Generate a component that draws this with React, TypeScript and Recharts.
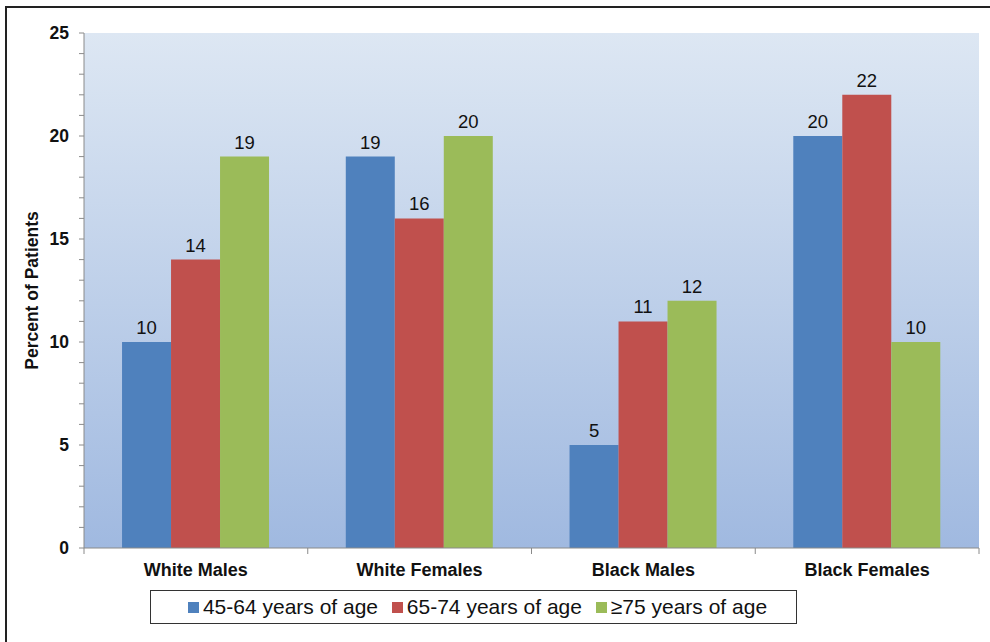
import React from "react";
import {
    BarChart,
    Bar,
    XAxis,
    YAxis,
    CartesianGrid,
    LabelList,
    Legend,
} from "recharts";

// data
const categories = ["White Males", "White Females", "Black Males", "Black Females"];
const age45to64 = [10, 19, 5, 20];
const age65to74 = [14, 16, 11, 22];
const age75plus = [19, 20, 12, 10];
const seriesNames = ["45-64 years of age", "65-74 years of age", "\u226575 years of age"];
const seriesColors = ["#4f81bd", "#c0504d", "#9bbb59"];
const yTicks = [0, 1, 2, 3, 4, 5, 6, 7, 8, 9, 10, 11, 12, 13, 14, 15, 16, 17, 18, 19, 20, 21, 22, 23, 24, 25];

const FONT = "'Liberation Sans', Arial, Helvetica, sans-serif";
const AXIS_GREY = "#8a8a8a";

const YTick = (props: any) => {
    const { x, y, payload } = props;
    const major = payload.value % 5 === 0;
    return (
        <g>
            <line x1={x - 5} x2={x} y1={y} y2={y} stroke={AXIS_GREY} strokeWidth={1} />
            {major && (
                <text
                    x={x - 15}
                    y={y}
                    dy={6}
                    textAnchor="end"
                    fontFamily={FONT}
                    fontWeight="bold"
                    fontSize={17.5}
                    fill="#111"
                >
                    {payload.value}
                </text>
            )}
        </g>
    );
};

const XTick = (props: any) => {
    const { x, y, payload, index } = props;
    const half = payload.offset || 111.875;
    return (
        <g>
            <line x1={x - half} x2={x - half} y1={y} y2={y + 6} stroke={AXIS_GREY} />
            {index === categories.length - 1 && (
                <line x1={x + half} x2={x + half} y1={y} y2={y + 6} stroke={AXIS_GREY} />
            )}
            <text
                x={x}
                y={y + 28}
                textAnchor="middle"
                fontFamily={FONT}
                fontWeight="bold"
                fontSize={18}
                fill="#111"
            >
                {payload.value}
            </text>
        </g>
    );
};

const LegendBox = () => (
    <div
        style={{
            boxSizing: "border-box",
            width: 647,
            height: 34,
            border: "1.5px solid #333",
            background: "#fff",
            display: "flex",
            alignItems: "center",
            justifyContent: "space-around",
            padding: "0 22px 0 30px",
            fontFamily: FONT,
            fontSize: 21,
            color: "#111",
        }}
    >
        {seriesNames.map((n, i) => (
            <div key={n} style={{ display: "flex", alignItems: "center" }}>
                <span
                    style={{
                        display: "inline-block",
                        width: 11,
                        height: 11,
                        background: seriesColors[i],
                        marginRight: 4,
                    }}
                />
                <span>{n}</span>
            </div>
        ))}
    </div>
);

export default function App() {
    const chartData = categories.map((c, i) => ({
        name: c,
        a: age45to64[i],
        b: age65to74[i],
        c: age75plus[i],
    }));

    return (
        <div
            style={{
                position: "absolute",
                left: 0,
                top: 0,
                width: 990,
                height: 642,
                overflow: "hidden",
                background: "#fff",
            }}
        >
            {/* outer frame, only left and top edges fall inside the picture */}
            <div
                style={{
                    position: "absolute",
                    left: 5,
                    top: 6,
                    width: 1100,
                    height: 800,
                    border: "2.5px solid #222",
                }}
            />
            <div style={{ position: "absolute", left: 0, top: 0 }}>
                <BarChart
                    width={990}
                    height={642}
                    data={chartData}
                    margin={{ top: 33, right: 11, bottom: 58, left: 0 }}
                    barCategoryGap="17%"
                    barGap={0}
                >
                    <defs>
                        <linearGradient id="plotBg" x1="0" y1="0" x2="0" y2="1">
                            <stop offset="0%" stopColor="#dde7f3" />
                            <stop offset="100%" stopColor="#a0b9e0" />
                        </linearGradient>
                    </defs>
                    <CartesianGrid horizontal={false} vertical={false} fill="url(#plotBg)" />
                    <XAxis
                        dataKey="name"
                        height={36}
                        stroke={AXIS_GREY}
                        tickLine={false}
                        tickSize={0}
                        tickMargin={0}
                        tick={<XTick />}
                        interval={0}
                    />
                    <XAxis
                        xAxisId="top"
                        dataKey="name"
                        orientation="top"
                        height={0}
                        stroke={AXIS_GREY}
                        tick={false}
                        tickLine={false}
                    />
                    <YAxis
                        width={84}
                        domain={[0, 25]}
                        ticks={yTicks}
                        interval={0}
                        stroke={AXIS_GREY}
                        tickLine={false}
                        tickSize={0}
                        tickMargin={0}
                        tick={<YTick />}
                        label={{
                            value: "Percent of Patients",
                            angle: -90,
                            position: "insideLeft",
                            offset: 32,
                            style: {
                                fontFamily: FONT,
                                fontWeight: "bold",
                                fontSize: 17.5,
                                fill: "#111",
                                textAnchor: "middle",
                            },
                        }}
                    />
                    <YAxis
                        yAxisId="right"
                        orientation="right"
                        width={0}
                        domain={[0, 25]}
                        stroke={AXIS_GREY}
                        tick={false}
                        tickLine={false}
                    />
                    <Legend
                        verticalAlign="middle"
                        align="center"
                        content={() => <LegendBox />}
                        wrapperStyle={{ left: 150, top: 590, width: 647, height: 34 }}
                    />
                    <Bar dataKey="a" name={seriesNames[0]} fill={seriesColors[0]} isAnimationActive={false}>
                        <LabelList dataKey="a" position="top" offset={8} fill="#111" fontSize={18.5} fontFamily={FONT} />
                    </Bar>
                    <Bar dataKey="b" name={seriesNames[1]} fill={seriesColors[1]} isAnimationActive={false}>
                        <LabelList dataKey="b" position="top" offset={8} fill="#111" fontSize={18.5} fontFamily={FONT} />
                    </Bar>
                    <Bar dataKey="c" name={seriesNames[2]} fill={seriesColors[2]} isAnimationActive={false}>
                        <LabelList dataKey="c" position="top" offset={8} fill="#111" fontSize={18.5} fontFamily={FONT} />
                    </Bar>
                </BarChart>
            </div>
        </div>
    );
}
